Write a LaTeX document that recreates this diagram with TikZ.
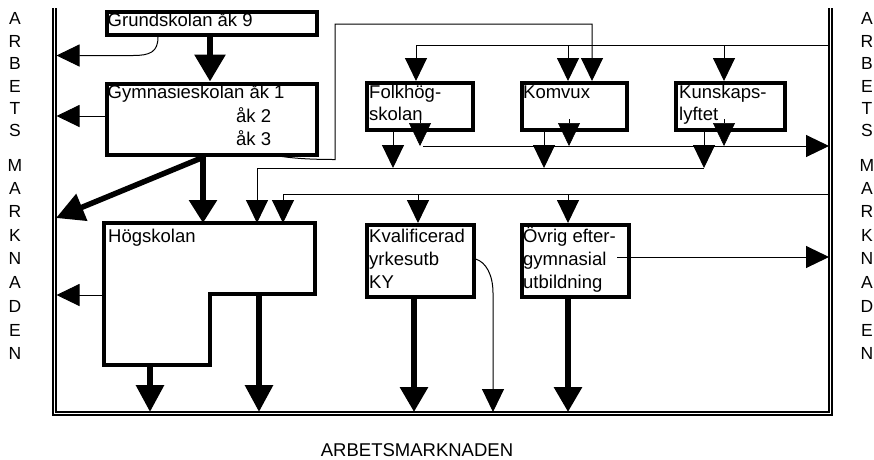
\documentclass[tikz,border=0pt]{standalone}
\usepackage{fontspec}
\setmainfont{Liberation Sans}
\usetikzlibrary{arrows.meta}
\begin{document}
\begin{tikzpicture}[x=1pt,y=-1pt,
  box/.style={draw,line width=4pt,inner sep=0pt,anchor=north west},
  txt/.style={anchor=base west,inner sep=0pt,font=\fontsize{18.5}{22}\selectfont},
  side/.style={anchor=base,inner sep=0pt,font=\fontsize{17.5}{20}\selectfont},
  tarr/.style={line width=1pt,-{Triangle[width=22pt,length=23pt]}},
  harr/.style={line width=0.6pt,-{Triangle[width=22pt,length=23pt]}},
  bord/.style={line width=1.3pt}]
\useasboundingbox (0,0) rectangle (874,459);

% border (open at top)
\draw[bord] (53,8) -- (53,415) -- (832,415) -- (832,8);
\draw[bord] (56,8) -- (56,412) -- (829,412) -- (829,8);

% side letters
\foreach \c/\y [count=\i] in {A/18,R/41,B/63,E/86,T/108,S/130,M/165,A/188,R/211,K/235,N/258,A/282,D/306,E/330,N/353}{
  \node[side] (l\i) at (15,\y+6) {\c};
  \node[side] (r\i) at (867,\y+6) {\c};
}
\node[anchor=base,inner sep=0pt,font=\fontsize{18.5}{22}\selectfont] (bottom) at (417,456.5) {ARBETSMARKNADEN};

% boxes
\node[box,minimum width=210.5pt,minimum height=23pt] (grund) at (104.5,10) {};
\node[box,minimum width=210.5pt,minimum height=71pt] (gym) at (104.5,81.5) {};
\node[box,minimum width=106pt,minimum height=47pt] (folk) at (365,81) {};
\node[box,minimum width=105.5pt,minimum height=47pt] (komvux) at (519.5,81) {};
\node[box,minimum width=108.5pt,minimum height=47pt] (kunsk) at (674,81) {};
\node[box,minimum width=106.5pt,minimum height=72pt] (kval) at (365,223) {};
\node[box,minimum width=107pt,minimum height=72pt] (ovrig) at (519.5,223) {};
\draw[line width=4pt] (104,223) -- (315,223) -- (315,294) -- (210,294) -- (210,365) -- (104,365) -- cycle;

% texts
\node[txt] (tgrund) at (107.5,26) {Grundskolan åk 9};
\node[txt] (tgym1) at (107.5,98) {Gymnasieskolan åk 1};
\node[txt] (tgym2) at (236,122) {åk 2};
\node[txt] (tgym3) at (236,145) {åk 3};
\node[txt] (tfolk1) at (369,98) {Folkhög-};
\node[txt] (tfolk2) at (369,120) {skolan};
\node[txt] (tkom) at (523,98) {Komvux};
\node[txt] (tkun1) at (679,98) {Kunskaps-};
\node[txt] (tkun2) at (679,120) {lyftet};
\node[txt] (thog) at (108,242) {Högskolan};
\node[txt] (tkv1) at (369,242) {Kvalificerad};
\node[txt] (tkv2) at (369,265) {yrkesutb};
\node[txt] (tkv3) at (369,288) {KY};
\node[txt] (tov1) at (523,242) {Övrig efter-};
\node[txt] (tov2) at (523,265) {gymnasial};
\node[txt] (tov3) at (523,288) {utbildning};

% Grundskolan
\draw[line width=6pt,-{Triangle[width=30pt,length=27pt]}] ([xshift=105.5pt]grund.south west) -- ([xshift=105.5pt]gym.north west);
\draw[tarr] ([xshift=53.5pt]grund.south west) .. controls (158,52) and (150,55.5) .. (133,55.5) -- (56.5,55.5);

% Gymnasieskolan
\draw[tarr] ([yshift=-34.5pt]gym.north west) -- (56.5,116);
\draw[line width=5.5pt,-{Triangle[width=28pt,length=28pt]}] ([xshift=100.5pt]gym.south west) -- (56,218);
\draw[line width=6pt,-{Triangle[width=27pt,length=23pt]}] ([xshift=98.5pt]gym.south west) -- (203,223);
\draw[tarr] ([xshift=177.5pt]gym.south west) .. controls (296,158.5) and (312,159.5) .. (335,159.5) -- (335,24) -- (592,24) -- ([xshift=72.5pt]komvux.north west);

% line at y=45
\draw[tarr] (829,45) -- (416,45) -- ([xshift=51pt]folk.north west);
\draw[tarr] (568,45) -- ([xshift=48.5pt]komvux.north west);
\draw[tarr] (724,45) -- ([xshift=50pt]kunsk.north west);

% arrows onto line at y=146
\draw[harr] (420,119) -- (420,146);
\draw[harr] (569,119) -- (569,146);
\draw[harr] (724,119) -- (724,146);
\draw[tarr] (423,146) -- (829,146);

% stems to line at y=168
\draw[tarr] ([xshift=28pt]folk.south west) -- (393,168);
\draw[tarr] ([xshift=24.5pt]komvux.south west) -- (544,168);
\draw[tarr] ([xshift=30pt]kunsk.south west) -- (704,168);
\draw[tarr] (704,168) -- (257,168) -- (257,223);

% line at y=194
\draw[tarr] (829,194) -- (283,194) -- (283,223);
\draw[tarr] (418,194) -- ([xshift=53pt]kval.north west);
\draw[tarr] (568,194) -- ([xshift=48.5pt]ovrig.north west);

% Högskolan outputs
\draw[tarr] (104,295) -- (56.5,295);
\draw[line width=6pt,-{Triangle[width=27pt,length=27pt]}] (150,365) -- (150,412);
\draw[line width=6pt,-{Triangle[width=27pt,length=27pt]}] (259,294) -- (259,412);

% KY outputs
\draw[line width=6pt,-{Triangle[width=27pt,length=25pt]}] ([xshift=49pt]kval.south west) -- (414,412);
\draw[tarr] ([yshift=-36pt]kval.north east) .. controls (486,262) and (493,275) .. (493,293) -- (493,412);

% Övrig outputs
\draw[line width=6pt,-{Triangle[width=27pt,length=25pt]}] ([xshift=48.5pt]ovrig.south west) -- (568,412);
\draw[tarr] (617,257) -- (829,257);
\end{tikzpicture}
\end{document}
